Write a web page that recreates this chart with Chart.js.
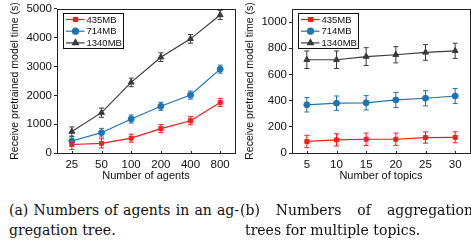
<!DOCTYPE html>
<html>
<head>
<meta charset="utf-8">
<script src="https://cdn.jsdelivr.net/npm/chart.js@4"></script>
<style>
  html, body { margin: 0; padding: 0; background: #fff; }
  body { width: 471px; height: 242px; overflow: hidden; position: relative; }
  .box { position: absolute; top: 0; width: 240px; height: 185px; }
  .cap { position: absolute; font-family: "DejaVu Serif", serif; font-size: 14px; line-height: 20px; color: #111; white-space: nowrap; }
  .just { text-align: justify; text-align-last: justify; white-space: normal; }
</style>
</head>
<body>
<div class="box" style="left: 0px;"><canvas id="chart_a"></canvas></div>
<div class="box" style="left: 235px;"><canvas id="chart_b"></canvas></div>

<div class="cap just" style="left: 9px; top: 200px; width: 230px;">(a) Numbers of agents in an ag-</div>
<div class="cap" style="left: 9px; top: 220px;">gregation tree.</div>
<div class="cap just" style="left: 240px; top: 200px; width: 233px;">(b) Numbers of aggregation</div>
<div class="cap" style="left: 245px; top: 220px;">trees for multiple topics.</div>

<script>
/* values */
const series_names = [ '435MB', '714MB', '1340MB' ];

const agents = [ '25', '50', '100', '200', '400', '800' ];
const agents_435 = [ 295, 335, 515, 845, 1120, 1755 ];
const agents_714 = [ 415, 705, 1180, 1620, 2010, 2910 ];
const agents_1340 = [ 745, 1400, 2450, 3325, 3960, 4790 ];
const agents_err_435 = [ 170, 160, 140, 140, 140, 140 ];
const agents_err_714 = [ 150, 150, 140, 140, 140, 140 ];
const agents_err_1340 = [ 160, 160, 150, 150, 150, 160 ];

const topics = [ '5', '10', '15', '20', '25', '30' ];
const topics_435 = [ 88, 100, 105, 105, 118, 120 ];
const topics_714 = [ 368, 380, 383, 405, 418, 435 ];
const topics_1340 = [ 712, 712, 736, 750, 768, 780 ];
const topics_err_435 = [ 47, 47, 47, 47, 43, 42 ];
const topics_err_714 = [ 55, 55, 55, 57, 58, 57 ];
const topics_err_1340 = [ 67, 67, 68, 62, 60, 58 ];

const colours = [ '#ff1a1a', '#1f74b4', '#3a3a3a' ];
const markers = [ 'rect', 'circle', 'triangle' ];
const radii = [ 2.8, 3, 3.4 ];

const font_name = "'Liberation Sans', Arial, sans-serif";

// error bars drawn through the scales
const error_bars =
{
    id: 'error_bars',
    afterDatasetsDraw: function (chart)
    {
        const ctx = chart.ctx;
        const ys = chart.scales.y;
        chart.data.datasets.forEach(function (ds, di)
        {
            const meta = chart.getDatasetMeta(di);
            ctx.save();
            ctx.strokeStyle = ds.borderColor;
            ctx.lineWidth = 1;
            meta.data.forEach(function (pt, ii)
            {
                const v = ds.data[ii];
                const e = ds.errors[ii];
                const y1 = ys.getPixelForValue(v + e);
                const y2 = ys.getPixelForValue(v - e);
                ctx.beginPath();
                ctx.moveTo(pt.x, y1); ctx.lineTo(pt.x, y2);
                ctx.moveTo(pt.x - 2.5, y1); ctx.lineTo(pt.x + 2.5, y1);
                ctx.moveTo(pt.x - 2.5, y2); ctx.lineTo(pt.x + 2.5, y2);
                ctx.stroke();
            });
            ctx.restore();
        });
    }
};

// frame round the plot, small inward x ticks, and legend box in the top left corner
const frame_legend =
{
    id: 'frame_legend',
    afterDraw: function (chart)
    {
        const ctx = chart.ctx;
        const a = chart.chartArea;
        const xs = chart.scales.x;
        ctx.save();
        ctx.strokeStyle = '#222';
        ctx.lineWidth = 1;
        ctx.strokeRect(Math.round(a.left) + 0.5, Math.round(a.top) + 0.5,
                       Math.round(a.right - a.left), Math.round(a.bottom - a.top));

        ctx.beginPath();
        xs.ticks.forEach(function (t, ii)
        {
            const x = Math.round(xs.getPixelForTick(ii)) + 0.5;
            ctx.moveTo(x, Math.round(a.bottom)); ctx.lineTo(x, Math.round(a.bottom) - 2);
        });
        ctx.stroke();

        const bx = Math.round(a.left) + 6.5;
        const by = Math.round(a.top) + 4.5;
        ctx.fillStyle = '#fff';
        ctx.fillRect(bx, by, 60, 35);
        ctx.strokeStyle = '#111';
        ctx.strokeRect(bx, by, 60, 35);

        ctx.font = '9.5px ' + font_name;
        ctx.textBaseline = 'middle';
        chart.data.datasets.forEach(function (ds, di)
        {
            const y = by + 6 + di * 11.7;
            ctx.strokeStyle = ds.borderColor;
            ctx.lineWidth = 1.2;
            ctx.beginPath();
            ctx.moveTo(bx + 2.5, y); ctx.lineTo(bx + 21, y);
            ctx.stroke();
            Chart.helpers.drawPoint(ctx, { pointStyle: ds.pointStyle, radius: ds.pointRadius, borderWidth: 1 },
                                    bx + 12, y);
            ctx.fillStyle = ds.borderColor;
            ctx.fill();
            ctx.fillStyle = '#111';
            ctx.fillText(ds.label, bx + 23, y + 0.5);
        });
        ctx.restore();
    }
};

function make_dataset ( ii, values, errors )
{
    return {
        label: series_names[ii],
        data: values,
        errors: errors,
        borderColor: colours[ii],
        backgroundColor: colours[ii],
        borderWidth: 1.2,
        pointStyle: markers[ii],
        pointRadius: radii[ii],
        pointBorderWidth: 1,
        tension: 0
    };
}

function make_chart ( canvas_id, labels, sets, ymax, step, xlab )
{
    const options =
    {
        responsive: true,
        maintainAspectRatio: false,
        animation: false,
        layout: { padding: { left: 0, right: 3, top: 8, bottom: 0 } },
        scales:
        {
            x:
            {
                offset: true,
                grid: { display: false, drawTicks: false },
                border: { display: false },
                ticks: { color: '#111', font: { family: font_name, size: 11.5 }, padding: 5, maxRotation: 0 },
                title: { display: true, text: xlab, color: '#111', font: { family: font_name, size: 11 }, padding: 2 },
                afterFit: function (s) { s.height = 32; }
            },
            y:
            {
                min: 0,
                max: ymax,
                grid: { drawOnChartArea: false, tickLength: 3, color: '#222' },
                border: { display: false },
                ticks: { stepSize: step, color: '#111', font: { family: font_name, size: 11.5 }, padding: 2,
                         callback: function (v) { return String(v); } },
                title: { display: true, text: 'Receive pretrained model time (s)', color: '#111',
                         font: { family: font_name, size: 10.5 }, padding: 9 },
                afterBuildTicks: function (s) { s.ticks = s.ticks.filter(t => t.value % step === 0); },
                afterFit: function (s) { s.width = 57; }
            }
        },
        plugins:
        {
            legend: { display: false },
            tooltip: { enabled: false }
        }
    };

    const data = { labels: labels, datasets: sets };
    const config = { type: 'line', data: data, options: options, plugins: [ error_bars, frame_legend ] };
    return new Chart( document.getElementById(canvas_id), config );
}

make_chart('chart_a', agents,
    [ make_dataset(0, agents_435, agents_err_435),
      make_dataset(1, agents_714, agents_err_714),
      make_dataset(2, agents_1340, agents_err_1340) ],
    5000, 1000, 'Number of agents');

make_chart('chart_b', topics,
    [ make_dataset(0, topics_435, topics_err_435),
      make_dataset(1, topics_714, topics_err_714),
      make_dataset(2, topics_1340, topics_err_1340) ],
    1100, 200, 'Number of topics');
</script>
</body>
</html>
